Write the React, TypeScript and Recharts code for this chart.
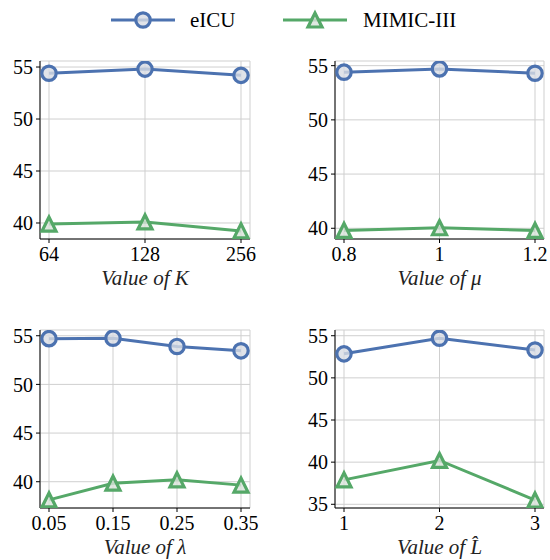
import { LineChart, Line, XAxis, YAxis, CartesianGrid } from 'recharts'

const BLUE = '#4c72b0'
const GREEN = '#55a868'
const FONT = 'Liberation Serif'

// Value of K
const kLabels = ['64', '128', '256']
const kEicu = [54.4, 54.8, 54.2]
const kMimic = [39.9, 40.1, 39.24]

// Value of mu
const muLabels = ['0.8', '1', '1.2']
const muEicu = [54.4, 54.7, 54.3]
const muMimic = [39.8, 40.05, 39.8]

// Value of lambda
const lambdaLabels = ['0.05', '0.15', '0.25', '0.35']
const lambdaEicu = [54.7, 54.75, 53.9, 53.45]
const lambdaMimic = [38.13, 39.85, 40.2, 39.65]

// Value of L-hat
const lLabels = ['1', '2', '3']
const lEicu = [52.85, 54.7, 53.3]
const lMimic = [37.9, 40.2, 35.5]

const Y_WIDTH = 40
const M_TOP = 10
const M_RIGHT = 12
const X_HEIGHT = 55

const CircleDot = (props: any) => {
  const { cx, cy, index } = props
  if (cx == null || cy == null) return null
  return (
    <circle key={`c-${index}`} cx={cx} cy={cy} r={7.2} fill="#d8dce4" fillOpacity={0.8} stroke={BLUE} strokeWidth={3.2} />
  )
}

const TriangleDot = (props: any) => {
  const { cx, cy, index } = props
  if (cx == null || cy == null) return null
  const a = 7
  return (
    <polygon
      key={`t-${index}`}
      points={`${cx},${cy - a} ${cx - a},${cy + a} ${cx + a},${cy + a}`}
      fill="#d8e2da"
      fillOpacity={0.8}
      stroke={GREEN}
      strokeWidth={3.2}
      strokeLinejoin="miter"
    />
  )
}

interface PanelProps {
  left: number
  top: number
  plotW: number
  plotH: number
  labels: string[]
  eicu: number[]
  mimic: number[]
  domain: [number, number]
  ticks: number[]
  xLabel: string
}

function Panel({ left, top, plotW, plotH, labels, eicu, mimic, domain, ticks, xLabel }: PanelProps) {
  const data = labels.map((x, i) => ({ x, eicu: eicu[i], mimic: mimic[i] }))
  const width = Y_WIDTH + plotW + M_RIGHT
  const height = M_TOP + plotH + X_HEIGHT
  const tickStyle = { fill: '#000', fontSize: 20, fontFamily: FONT }
  return (
    <div style={{ position: 'absolute', left: left - Y_WIDTH, top: top - M_TOP }}>
      <LineChart width={width} height={height} data={data} margin={{ top: M_TOP, right: M_RIGHT, left: 0, bottom: 0 }}>
        <CartesianGrid stroke="#cfcfcf" strokeWidth={1} />
        <XAxis
          dataKey="x"
          type="category"
          padding={{ left: 9, right: 9 }}
          height={X_HEIGHT}
          axisLine={{ stroke: '#000', strokeWidth: 1 }}
          tickLine={{ stroke: '#000' }}
          tickSize={4}
          tickMargin={4}
          tick={tickStyle}
          interval={0}
          label={{
            value: xLabel,
            position: 'insideBottom',
            offset: 9,
            fontFamily: FONT,
            fontSize: 21,
            fontStyle: 'italic',
            fill: '#222',
          }}
        />
        <XAxis xAxisId="top" dataKey="x" orientation="top" height={0} padding={{ left: 9, right: 9 }} tick={false} tickLine={false} axisLine={{ stroke: '#000', strokeWidth: 1 }} />
        <YAxis
          type="number"
          domain={domain}
          ticks={ticks}
          allowDataOverflow
          width={Y_WIDTH}
          axisLine={{ stroke: '#000', strokeWidth: 1 }}
          tickLine={{ stroke: '#000' }}
          tickSize={4}
          tickMargin={3}
          tick={tickStyle}
        />
        <YAxis yAxisId="right" orientation="right" type="number" domain={domain} allowDataOverflow width={0} tick={false} tickLine={false} axisLine={{ stroke: '#000', strokeWidth: 1 }} />
        <Line dataKey="eicu" stroke={BLUE} strokeWidth={3} dot={CircleDot} isAnimationActive={false} />
        <Line dataKey="mimic" stroke={GREEN} strokeWidth={3} dot={TriangleDot} isAnimationActive={false} />
      </LineChart>
    </div>
  )
}

function LegendBar() {
  const a = 7
  return (
    <svg width={550} height={40} style={{ position: 'absolute', left: 0, top: 0 }}>
      <line x1={111} y1={20} x2={175} y2={20} stroke={BLUE} strokeWidth={3} />
      <circle cx={143} cy={20} r={7.2} fill="#d8dce4" fillOpacity={0.8} stroke={BLUE} strokeWidth={3.2} />
      <text x={190} y={27} fontFamily={FONT} fontSize={21} fill="#000">eICU</text>
      <line x1={283} y1={20} x2={347} y2={20} stroke={GREEN} strokeWidth={3} />
      <polygon
        points={`315,${20 - a} ${315 - a},${20 + a} ${315 + a},${20 + a}`}
        fill="#d8e2da"
        fillOpacity={0.8}
        stroke={GREEN}
        strokeWidth={3.2}
      />
      <text x={363} y={27} fontFamily={FONT} fontSize={21} fill="#000">MIMIC-III</text>
    </svg>
  )
}

export default function App() {
  return (
    <div style={{ position: 'absolute', left: 0, top: 0, width: 550, height: 560, background: '#fff', overflow: 'hidden', fontFamily: FONT }}>
      <LegendBar />
      <Panel left={40} top={61} plotW={210} plotH={178} labels={kLabels} eicu={kEicu} mimic={kMimic} domain={[38.46, 55.58]} ticks={[40, 45, 50, 55]} xLabel="Value of K" />
      <Panel left={335} top={61} plotW={209} plotH={178} labels={muLabels} eicu={muEicu} mimic={muMimic} domain={[39.01, 55.43]} ticks={[40, 45, 50, 55]} xLabel="Value of μ" />
      <Panel left={40} top={330} plotW={210} plotH={178} labels={lambdaLabels} eicu={lambdaEicu} mimic={lambdaMimic} domain={[37.3, 55.59]} ticks={[40, 45, 50, 55]} xLabel="Value of λ" />
      <Panel left={335} top={330} plotW={209} plotH={178} labels={lLabels} eicu={lEicu} mimic={lMimic} domain={[34.56, 55.68]} ticks={[35, 40, 45, 50, 55]} xLabel={'Value of L\u0302'} />
    </div>
  )
}
